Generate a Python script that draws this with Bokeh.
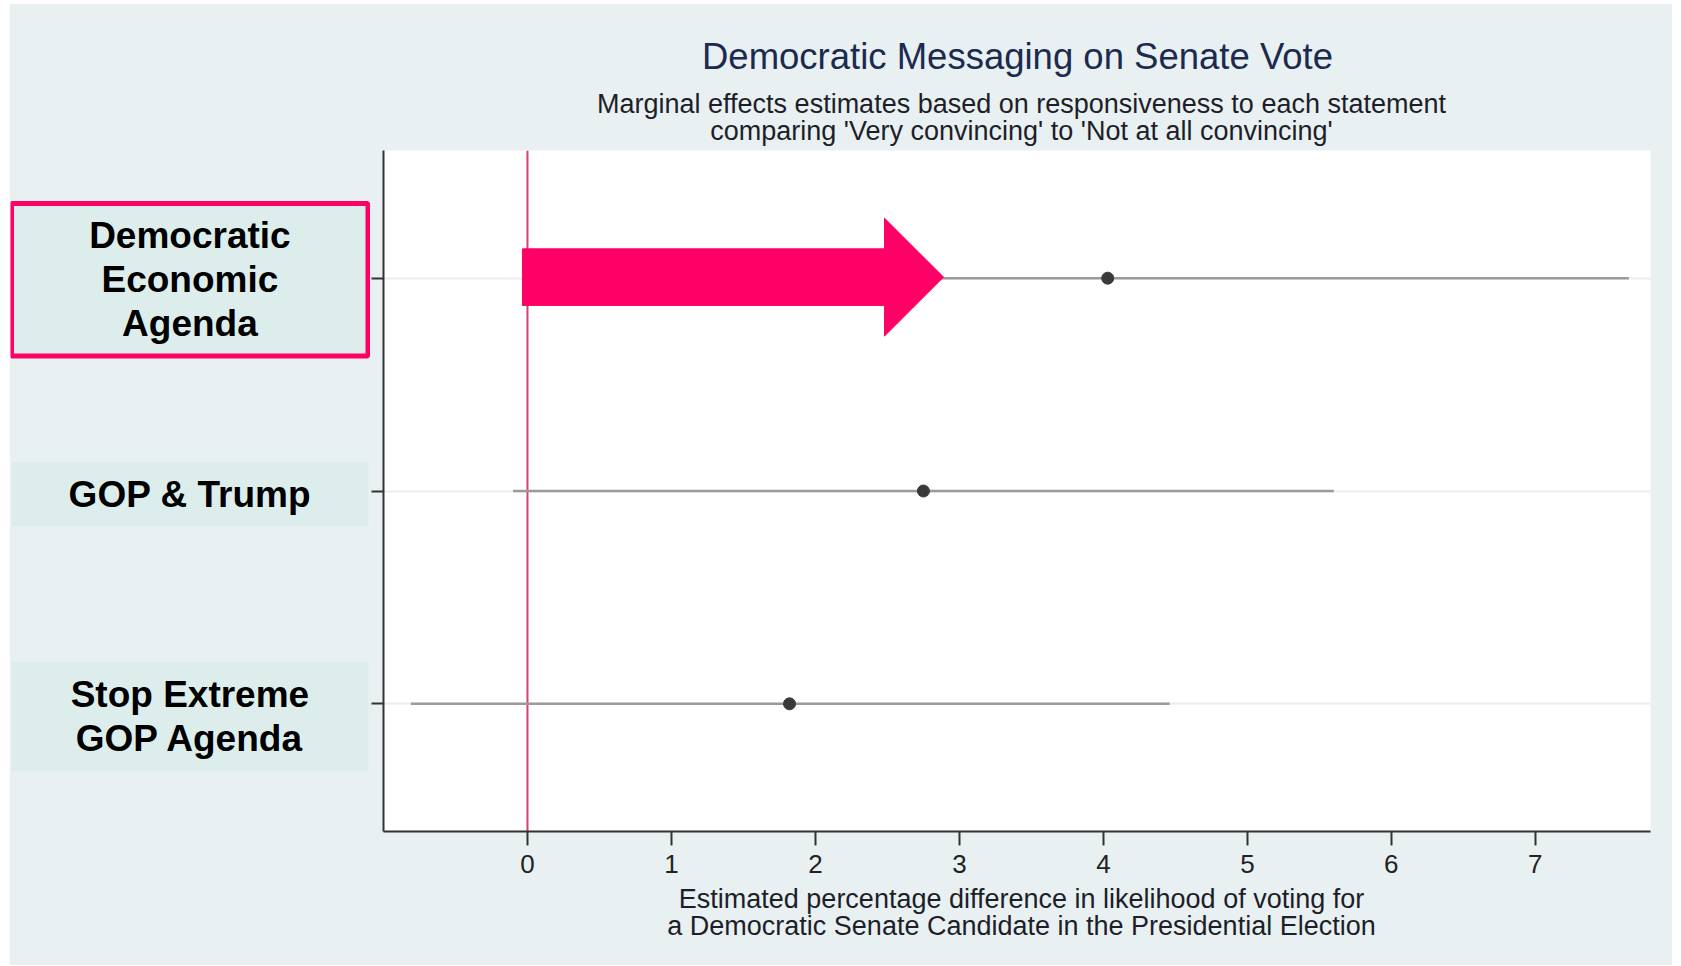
from bokeh.plotting import figure
from bokeh.layouts import row, column
from bokeh.models import Range1d, FixedTicker, ColumnDataSource, Span
from bokeh.embed import file_html
from bokeh.resources import INLINE
from bokeh.core.properties import value

# ---------------- data ----------------
categories = ["Democratic\nEconomic\nAgenda", "GOP & Trump", "Stop Extreme\nGOP Agenda"]
cat_pos = [1, 2, 3]
estimates = [4.03, 2.75, 1.82]
ci_low = [0.40, -0.10, -0.81]
ci_high = [7.65, 5.60, 4.46]
x_ticks = [0, 1, 2, 3, 4, 5, 6, 7]
highlighted = [True, False, False]

title_text = "Democratic Messaging on Senate Vote"
subtitle_lines = ["Marginal effects estimates based on responsiveness to each statement",
                  "comparing 'Very convincing' to 'Not at all convincing'"]
xlabel_lines = ["Estimated percentage difference in likelihood of voting for",
                "a Democratic Senate Candidate in the Presidential Election"]

# ---------------- style / layout ----------------
BG = "#e8f0f2"
BOX_FILL = "#dcedec"
PINK = "#ff0066"
FONT = "Liberation Sans"
TEXT_DARK = "#1e1e28"

TOTAL_W = 1662
LEFT_W = 360
MAIN_W = TOTAL_W - LEFT_W
TOP_H = 146
MID_H = 734
BOT_H = 81
FRAME_H = 681
MID_BOT_B = MID_H - FRAME_H
X0, X1 = -1.0, 7.8
Y0, Y1 = 0.4, 3.6


def strip(height, y_top, y_bot):
    f = figure(width=TOTAL_W, height=height, x_range=Range1d(0, TOTAL_W),
               y_range=Range1d(y_bot, y_top), output_backend="svg", toolbar_location=None,
               x_axis_type=None, y_axis_type=None,
               min_border_left=0, min_border_right=0, min_border_top=0, min_border_bottom=0)
    f.border_fill_color = BG
    f.background_fill_color = BG
    f.outline_line_color = None
    f.grid.visible = False
    return f


# ---------------- top strip: titles ----------------
top = strip(TOP_H, 0, TOP_H)
top.text(x=[1007], y=[52], text=[title_text], text_align="center", text_baseline="alphabetic",
         text_font=value(FONT), text_font_size="36.5px", text_color="#1b2a4e")
top.text(x=[1011, 1011], y=[99, 126], text=subtitle_lines, text_align="center",
         text_baseline="alphabetic", text_font=value(FONT), text_font_size="27px",
         text_color=TEXT_DARK)

y_range = Range1d(Y1, Y0)

# ---------------- main plot ----------------
p = figure(width=MAIN_W, height=MID_H, x_range=Range1d(X0, X1), y_range=y_range,
           output_backend="svg", toolbar_location=None,
           min_border_left=13, min_border_right=22, min_border_top=0, min_border_bottom=MID_BOT_B)
p.border_fill_color = BG
p.background_fill_color = "white"
p.outline_line_color = None

p.xgrid.visible = False
p.ygrid.ticker = FixedTicker(ticks=cat_pos)
p.ygrid.grid_line_color = "#e6eef2"
p.ygrid.grid_line_width = 2

p.xaxis.ticker = FixedTicker(ticks=x_ticks)
p.xaxis.axis_line_width = 2
p.xaxis.axis_line_color = "#333333"
p.xaxis.major_tick_line_color = "#333333"
p.xaxis.major_tick_line_width = 2
p.xaxis.major_tick_out = 14
p.xaxis.major_tick_in = 0
p.xaxis.minor_tick_line_color = None
p.xaxis.major_label_text_font = FONT
p.xaxis.major_label_text_font_size = "26px"
p.xaxis.major_label_text_color = "#222222"
p.xaxis.major_label_standoff = 9

p.yaxis.ticker = FixedTicker(ticks=cat_pos)
p.yaxis.axis_line_width = 2
p.yaxis.axis_line_color = "#333333"
p.yaxis.major_tick_line_color = "#333333"
p.yaxis.major_tick_line_width = 2
p.yaxis.major_tick_out = 12
p.yaxis.major_tick_in = 0
p.yaxis.minor_tick_line_color = None
p.yaxis.major_label_overrides = {c: "" for c in cat_pos}
p.yaxis.major_label_standoff = 0

zero = Span(location=0, dimension="height", line_color="#d6406a", line_width=2, level="underlay")
p.add_layout(zero)

src = ColumnDataSource(dict(y=cat_pos, est=estimates, lo=ci_low, hi=ci_high))
p.segment(x0="lo", x1="hi", y0="y", y1="y", source=src, line_color="#9b9b9b", line_width=2.5)
p.scatter(x="est", y="y", source=src, size=12, fill_color="#3a3a3a", line_color="#3a3a3a")

# highlight arrow pointing at the highlighted row
ARROW_START, ARROW_HEAD_BASE, ARROW_TIP = -0.035, 2.48, 2.89
BODY_HALF, HEAD_HALF = 0.133, 0.277
for yc, hl in zip(cat_pos, highlighted):
    if hl:
        yc2 = yc - 0.005
        p.patch(x=[ARROW_START, ARROW_HEAD_BASE, ARROW_HEAD_BASE, ARROW_TIP,
                   ARROW_HEAD_BASE, ARROW_HEAD_BASE, ARROW_START],
                y=[yc2 - BODY_HALF, yc2 - BODY_HALF, yc2 - HEAD_HALF, yc2,
                   yc2 + HEAD_HALF, yc2 + BODY_HALF, yc2 + BODY_HALF],
                fill_color=PINK, line_color=PINK, line_width=1)

# ---------------- left label panel ----------------
left = figure(width=LEFT_W, height=MID_H, x_range=Range1d(0, LEFT_W), y_range=y_range,
              output_backend="svg", toolbar_location=None, x_axis_type=None, y_axis_type=None,
              min_border_left=0, min_border_right=0, min_border_top=0, min_border_bottom=MID_BOT_B)
left.border_fill_color = BG
left.background_fill_color = BG
left.outline_line_color = None
left.grid.visible = False

box_center_off = [0.0075, 0.0165, 0.059]
box_half = [0.3585, 0.1505, 0.255]
box_centers = [c + o for c, o in zip(cat_pos, box_center_off)]
for bc, bh, hl in zip(box_centers, box_half, highlighted):
    if hl:
        left.quad(left=1, right=357.5, top=bc - bh, bottom=bc + bh, fill_color=BOX_FILL,
                  line_color=PINK, line_width=5)
    else:
        left.quad(left=0.7, right=358, top=bc - bh, bottom=bc + bh, fill_color=BOX_FILL,
                  line_color=None)

left.text(x=[179.4] * len(categories), y=box_centers, text=categories,
          text_align="center", text_baseline="middle", text_font=value(FONT),
          text_font_style="bold", text_font_size="37px", text_color="black",
          text_line_height=1.07)

# ---------------- bottom strip: x-axis title ----------------
bot = strip(BOT_H, 0, BOT_H)
bot.text(x=[1011, 1011], y=[14, 41], text=xlabel_lines, text_align="center",
         text_baseline="alphabetic", text_font=value(FONT), text_font_size="27px",
         text_color=TEXT_DARK)

layout = column(top, row(left, p, styles={"background-color": BG}), bot,
                margin=(4, 0, 0, 10), styles={"background-color": BG})
open("out.html", "w").write(file_html(layout, INLINE))
